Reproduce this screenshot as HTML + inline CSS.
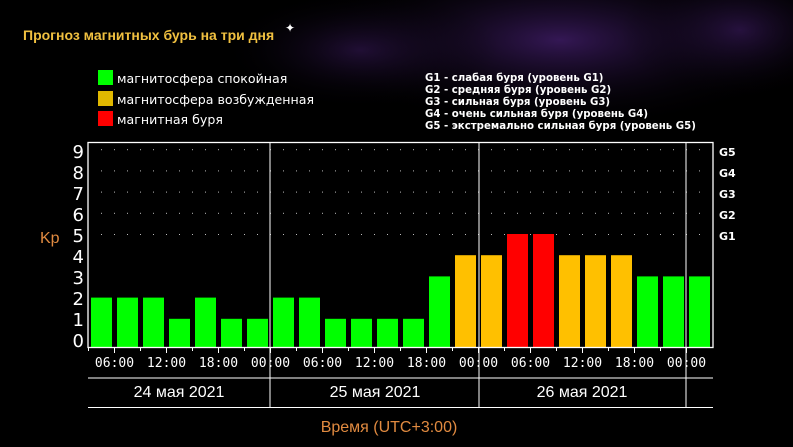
<!DOCTYPE html>
<html><head><meta charset="utf-8"><style>
body{margin:0;width:793px;height:447px;overflow:hidden;background:#000;font-family:"Liberation Sans","DejaVu Sans",sans-serif;}
</style></head><body>
<svg width="793" height="447" xmlns="http://www.w3.org/2000/svg" style="display:block">
<defs>
<radialGradient id="n1" cx="0.5" cy="0.5" r="0.5"><stop offset="0" stop-color="#3a1a5e" stop-opacity="0.9"/><stop offset="1" stop-color="#000" stop-opacity="0"/></radialGradient>
</defs>
<rect width="793" height="447" fill="#000"/>
<ellipse cx="560" cy="40" rx="260" ry="90" fill="url(#n1)"/>
<ellipse cx="360" cy="50" rx="140" ry="60" fill="url(#n1)" opacity="0.6"/>
<ellipse cx="740" cy="30" rx="120" ry="70" fill="url(#n1)" opacity="0.7"/>
<text x="290" y="32" fill="#fff" font-size="12" text-anchor="middle">✦</text>
<text x="23" y="40" fill="#f0c040" font-size="14" font-weight="bold">Прогноз магнитных бурь на три дня</text>
<rect x="98" y="70" width="15" height="15" fill="#00ff00"/>
<rect x="98" y="91" width="15" height="15" fill="#e0b800"/>
<rect x="98" y="111" width="15" height="15" fill="#ff0000"/>
<g fill="#fff" font-size="12.6" font-family="DejaVu Sans,sans-serif"><text x="117" y="83">магнитосфера спокойная</text><text x="117" y="104">магнитосфера возбужденная</text><text x="117" y="124">магнитная буря</text></g>
<g fill="#fff" font-size="10.2" font-weight="bold" font-family="DejaVu Sans,sans-serif"><text x="425" y="81">G1 - слабая буря (уровень G1)</text><text x="425" y="93">G2 - средняя буря (уровень G2)</text><text x="425" y="105">G3 - сильная буря (уровень G3)</text><text x="425" y="117">G4 - очень сильная буря (уровень G4)</text><text x="425" y="129">G5 - экстремально сильная буря (уровень G5)</text></g>
<g id="grid" fill="#bbb"></g>
<g id="bars"></g>
<rect x="88" y="142.5" width="625" height="205" fill="none" stroke="#fff" stroke-width="1.3"/>
<g stroke="#fff" stroke-width="1"><line x1="270" y1="143" x2="270" y2="407"/><line x1="479" y1="143" x2="479" y2="407"/><line x1="686" y1="143" x2="686" y2="407"/>
<line x1="88" y1="378" x2="713" y2="378"/><line x1="88" y1="407.5" x2="713" y2="407.5"/></g>
<g fill="#fff" font-size="18" font-family="DejaVu Sans,sans-serif" text-anchor="end"><text x="84" y="158">9</text><text x="84" y="179">8</text><text x="84" y="200">7</text><text x="84" y="221">6</text><text x="84" y="242">5</text><text x="84" y="263">4</text><text x="84" y="284">3</text><text x="84" y="305">2</text><text x="84" y="326">1</text><text x="84" y="347">0</text></g>
<text x="40" y="243" fill="#e08a40" font-size="16">Kp</text>
<g fill="#fff" font-size="11" font-weight="bold" font-family="DejaVu Sans,sans-serif"><text x="719" y="156">G5</text><text x="719" y="177">G4</text><text x="719" y="198">G3</text><text x="719" y="219">G2</text><text x="719" y="240">G1</text></g>
<g id="tl" fill="#fff" font-size="13" font-family="DejaVu Sans Mono,monospace" text-anchor="middle"></g>
<g fill="#fff" font-size="16" text-anchor="middle"><text x="179" y="397">24 мая 2021</text><text x="375" y="397">25 мая 2021</text><text x="582" y="397">26 мая 2021</text></g>
<text x="389" y="432" fill="#e08a40" font-size="16" text-anchor="middle">Время (UTC+3:00)</text>
</svg>
<script>
var ns="http://www.w3.org/2000/svg";
var v=[2,2,2,1,2,1,1,2,2,1,1,1,1,3,4,4,5,5,4,4,4,3,3,3];
var b=document.getElementById("bars");
v.forEach(function(k,i){var r=document.createElementNS(ns,"rect");var h=7+21.2*k;
r.setAttribute("x",91+26*i);r.setAttribute("width",21);r.setAttribute("y",347-h);r.setAttribute("height",h);
r.setAttribute("fill",k>=5?"#ff0000":k==4?"#ffc000":"#00ff00");b.appendChild(r);});
var g=document.getElementById("grid");
for(var l=5;l<=9;l++){var y=340-21.2*l;for(var x=101;x<712;x+=13){var c=document.createElementNS(ns,"rect");c.setAttribute("x",x);c.setAttribute("y",y);c.setAttribute("width",1);c.setAttribute("height",1);g.appendChild(c);}}
var t=document.getElementById("tl");var labs=["06:00","12:00","18:00","00:00"];
for(var j=0;j<12;j++){var x=114.5+52*j;var tx=document.createElementNS(ns,"text");tx.setAttribute("x",x);tx.setAttribute("y",367);tx.textContent=labs[j%4];t.appendChild(tx);}
for(var j=0;j<24;j++){var x=88.5+26*j;var ln=document.createElementNS(ns,"line");ln.setAttribute("x1",x);ln.setAttribute("x2",x);ln.setAttribute("y1",347);ln.setAttribute("y2",j%2?353:351);ln.setAttribute("stroke","#fff");t.appendChild(ln);}
</script>
</body></html>
